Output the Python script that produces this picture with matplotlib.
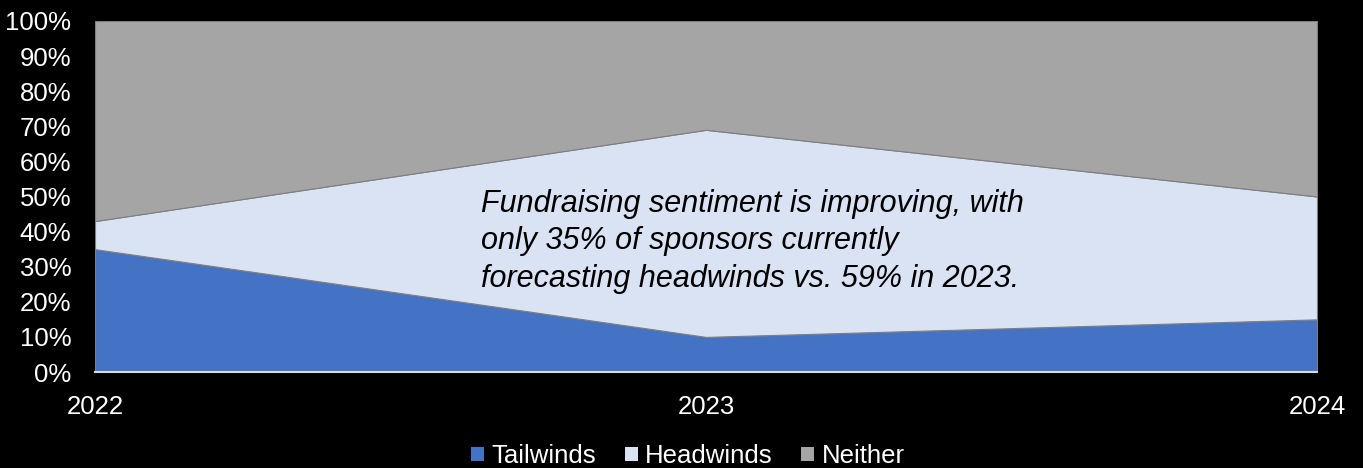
import matplotlib
matplotlib.use("Agg")
import matplotlib.pyplot as plt
from matplotlib.patches import Patch
from matplotlib.ticker import PercentFormatter

years = ["2022", "2023", "2024"]
tailwinds = [35, 10, 15]
headwinds = [8, 59, 35]
neither = [57, 31, 50]
series_names = ["Tailwinds", "Headwinds", "Neither"]
colors = ["#4472C4", "#DAE3F3", "#A5A5A5"]
note = ("Fundraising sentiment is improving, with\n"
        "only 35% of sponsors currently\n"
        "forecasting headwinds vs. 59% in 2023.")

plt.rcParams["font.family"] = ["Liberation Sans", "DejaVu Sans"]

fig = plt.figure(figsize=(13.63, 4.68), dpi=100, facecolor="black")
ax = fig.add_axes([95 / 1363, 1 - 372 / 468, (1317 - 95) / 1363, (372 - 21) / 468])
ax.set_facecolor("black")

x = list(range(len(years)))
ax.stackplot(x, tailwinds, headwinds, neither, colors=colors,
             edgecolor="#7F7F7F", linewidth=0.8)

ax.set_xlim(0, len(years) - 1)
ax.set_ylim(0, 100)
ax.set_yticks(range(0, 101, 10))
ax.yaxis.set_major_formatter(PercentFormatter(decimals=0))
ax.set_xticks(x)
ax.set_xticklabels(years)
ax.tick_params(axis="both", colors="white", labelsize=18.5, length=0)
ax.tick_params(axis="x", pad=16.5)
ax.tick_params(axis="y", pad=17)

for side in ["top", "right", "left"]:
    ax.spines[side].set_visible(False)
ax.spines["bottom"].set_color("#D9D9D9")
ax.spines["bottom"].set_linewidth(1.5)

ax.text(481 / 1363, 1 - 189 / 468, note, transform=fig.transFigure,
        fontsize=22, style="italic", color="black", va="top", ha="left",
        linespacing=1.32)

handles = [Patch(facecolor=c, edgecolor="none") for c in colors]
fig.legend(handles, series_names, loc="center", bbox_to_anchor=(688 / 1363, 1 - 456 / 468),
           ncol=3, frameon=False, fontsize=18.5, labelcolor="white",
           handlelength=0.5, handleheight=0.5, handletextpad=0.3, columnspacing=1.1)

fig.savefig("out.png", dpi=100, facecolor="black")
